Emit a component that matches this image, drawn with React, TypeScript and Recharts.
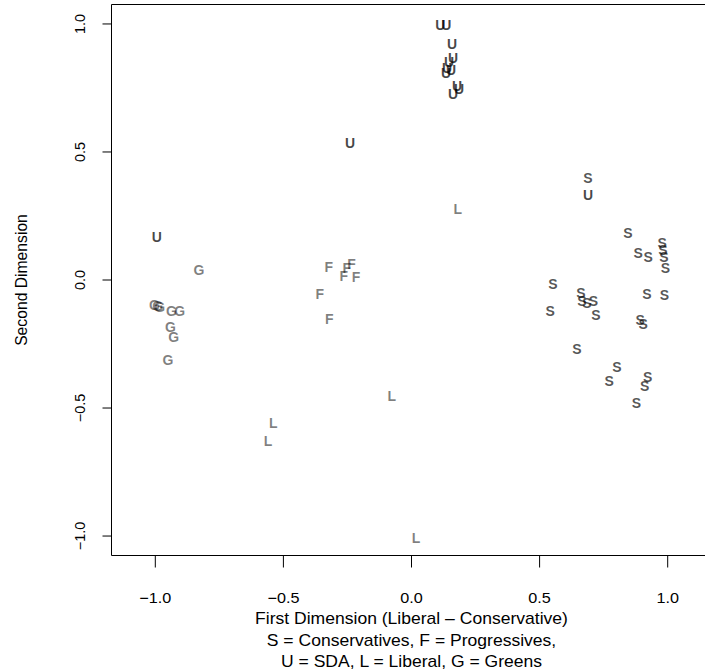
import React from "react";
import { ScatterChart, Scatter, XAxis, YAxis, ReferenceArea } from "recharts";

// S = Conservatives
const consX = [0.689, 0.845, 0.885, 0.924, 0.978, 0.981, 0.985, 0.991, 0.552, 0.541, 0.661, 0.665, 0.685, 0.71, 0.72, 0.919, 0.987, 0.893, 0.904, 0.646, 0.802, 0.772, 0.922, 0.91, 0.878];
const consY = [0.398, 0.182, 0.106, 0.09, 0.144, 0.117, 0.09, 0.047, -0.016, -0.12, -0.05, -0.081, -0.09, -0.081, -0.136, -0.055, -0.058, -0.156, -0.172, -0.27, -0.338, -0.396, -0.379, -0.413, -0.481];

// U = SDA
const sdaX = [0.112, 0.136, 0.158, 0.162, 0.147, 0.139, 0.154, 0.135, 0.178, 0.186, 0.162, -0.24, 0.689, -0.994];
const sdaY = [0.998, 0.998, 0.92, 0.869, 0.85, 0.827, 0.819, 0.807, 0.756, 0.745, 0.725, 0.535, 0.334, 0.169];

// G = Greens
const greensX = [-0.83, -1.003, -0.991, -0.983, -0.937, -0.905, -0.941, -0.928, -0.951];
const greensY = [0.039, -0.098, -0.101, -0.105, -0.12, -0.12, -0.184, -0.223, -0.312];

// F = Progressives
const progX = [-0.323, -0.253, -0.234, -0.264, -0.217, -0.358, -0.321];
const progY = [0.05, 0.046, 0.062, 0.016, 0.011, -0.055, -0.152];

// L = Liberal
const libX = [0.181, -0.077, -0.54, -0.56, 0.018];
const libY = [0.276, -0.452, -0.559, -0.628, -1.007];

const xTicks = [-1, -0.5, 0, 0.5, 1];
const yTicks = [-1, -0.5, 0, 0.5, 1];
const xDomain: [number, number] = [-1.171, 1.171];
const yDomain: [number, number] = [-1.076, 1.076];

const FONT = "'Liberation Sans', Arial, Helvetica, sans-serif";

const toPoints = (xs: number[], ys: number[]) => xs.map((x, i) => ({ x, y: ys[i] }));

const fmt = (v: number) => (v < 0 ? "\u2212" + Math.abs(v).toFixed(1) : v.toFixed(1));

const letterShape = (letter: string, opacity: number) => (props: any) => (
  <text
    x={props.cx}
    y={props.cy}
    dy="0.36em"
    textAnchor="middle"
    fontFamily={FONT}
    fontWeight="bold"
    fontSize={14}
    fill="#000"
    fillOpacity={opacity}
  >
    {letter}
  </text>
);

// horizontal text in the reference is slightly stretched sideways
const WideText = ({ x, y, size, children }: any) => (
  <text
    transform={`translate(${x},${y}) scale(1.11,1)`}
    textAnchor="middle"
    dy="0.36em"
    fontFamily={FONT}
    fontSize={size}
    fill="#000"
  >
    {children}
  </text>
);

const XTick = (props: any) => (
  <WideText x={props.x} y={598} size={14.6}>
    {fmt(props.payload.value)}
  </WideText>
);

const YTick = (props: any) => (
  <text
    transform={`translate(80,${props.y}) rotate(-90)`}
    textAnchor="middle"
    dy="0.36em"
    fontFamily={FONT}
    fontSize={14.4}
    fill="#000"
  >
    {fmt(props.payload.value)}
  </text>
);

const XTitle = () => (
  <g>
    <WideText x={411.5} y={618.5} size={15.8}>First Dimension (Liberal – Conservative)</WideText>
    <WideText x={411.5} y={640} size={15.8}>S = Conservatives, F = Progressives,</WideText>
    <WideText x={411.5} y={661.5} size={15.8}>U = SDA, L = Liberal, G = Greens</WideText>
  </g>
);

const YTitle = () => (
  <text
    transform={`translate(21,280) rotate(-90)`}
    textAnchor="middle"
    dy="0.36em"
    fontFamily={FONT}
    fontSize={15.7}
    fill="#000"
  >
    Second Dimension
  </text>
);

export default function App() {
  return (
    <div style={{ position: "absolute", left: 0, top: 0, width: 705, height: 670, overflow: "hidden", background: "#fff" }}>
      <ScatterChart width={712} height={670} margin={{ top: 4.5, right: 0.5, bottom: 0, left: 0 }}>
        <XAxis
          type="number"
          dataKey="x"
          domain={xDomain}
          ticks={xTicks}
          allowDataOverflow
          height={114.5}
          axisLine={false}
          tickSize={12}
          tickLine={{ stroke: "#000" }}
          tick={<XTick />}
          label={{ content: () => <XTitle /> }}
        />
        <YAxis
          type="number"
          dataKey="y"
          domain={yDomain}
          ticks={yTicks}
          allowDataOverflow
          width={111.5}
          axisLine={false}
          tickSize={9}
          tickLine={{ stroke: "#000" }}
          tick={<YTick />}
          label={{ content: () => <YTitle /> }}
        />
        <ReferenceArea
          x1={xDomain[0]}
          x2={xDomain[1]}
          y1={yDomain[0]}
          y2={yDomain[1]}
          fill="none"
          stroke="#000"
          strokeWidth={1}
          ifOverflow="visible"
        />
        <Scatter data={toPoints(progX, progY)} shape={letterShape("F", 0.5)} isAnimationActive={false} />
        <Scatter data={toPoints(libX, libY)} shape={letterShape("L", 0.5)} isAnimationActive={false} />
        <Scatter data={toPoints(greensX, greensY)} shape={letterShape("G", 0.5)} isAnimationActive={false} />
        <Scatter data={toPoints(consX, consY)} shape={letterShape("S", 0.67)} isAnimationActive={false} />
        <Scatter data={toPoints(sdaX, sdaY)} shape={letterShape("U", 0.72)} isAnimationActive={false} />
      </ScatterChart>
    </div>
  );
}
